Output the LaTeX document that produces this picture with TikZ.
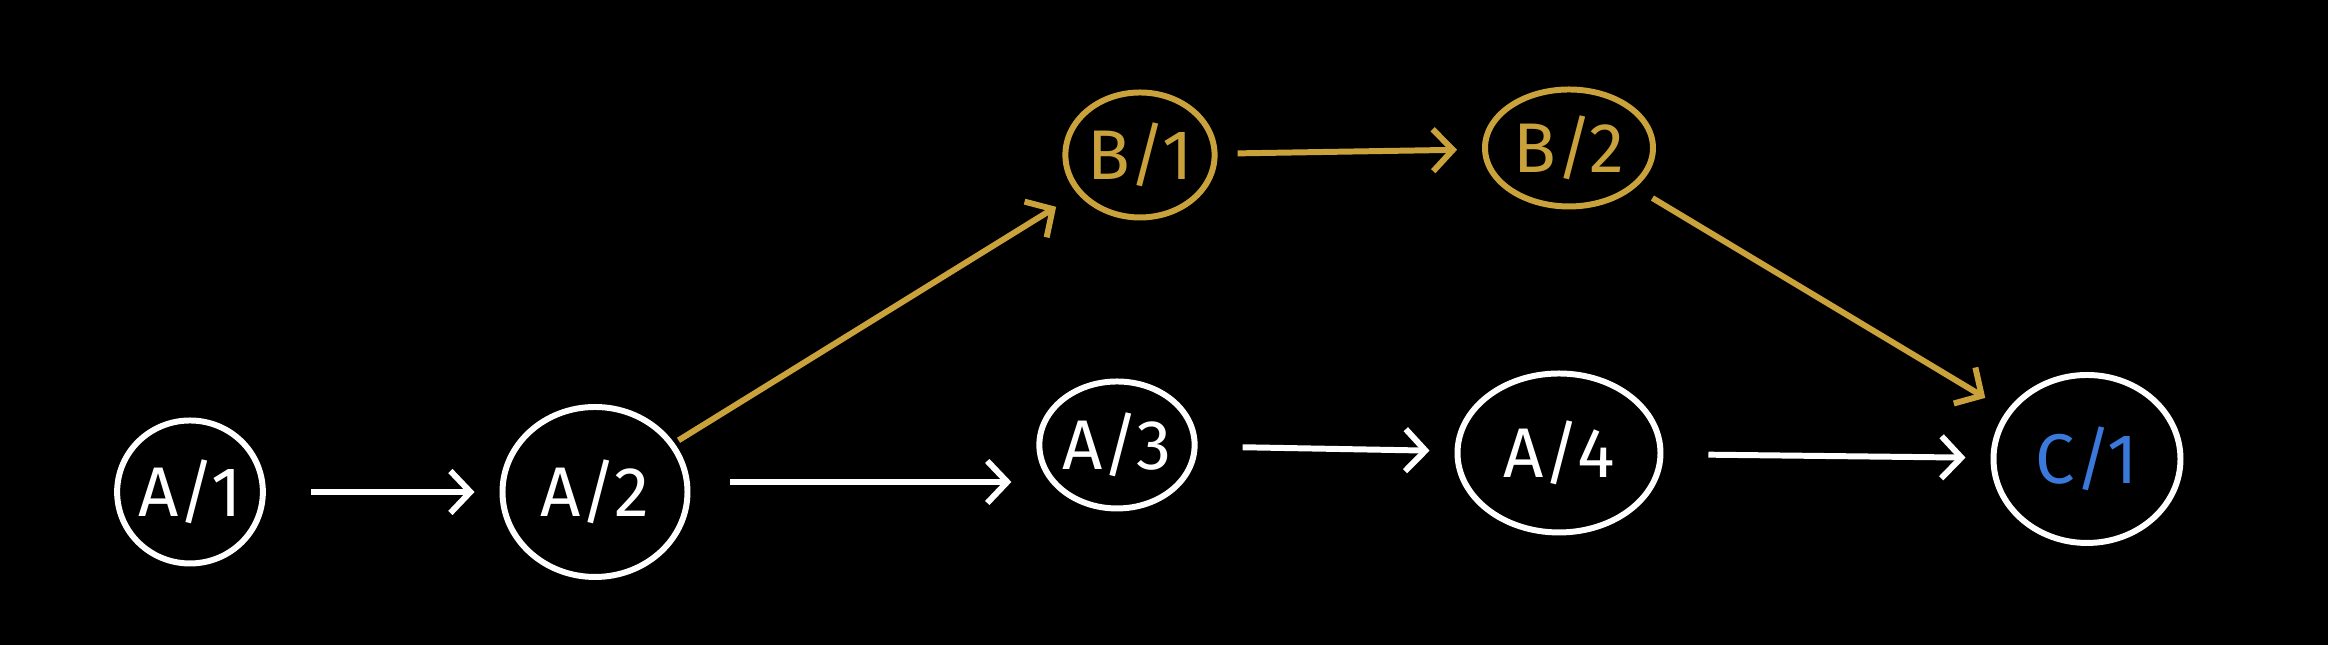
\documentclass[tikz,border=0pt]{standalone}
\usepackage{fontspec}
\setsansfont{Fira Sans}
\usetikzlibrary{arrows.meta, shapes.geometric}
\definecolor{gold}{HTML}{C9A23B}
\definecolor{chalkblue}{HTML}{3A78DA}

\begin{document}
\begin{tikzpicture}[every node/.style={font=\sffamily\fontsize{20}{24}\selectfont},
  state/.style={ellipse, draw=white, line width=1.7pt, inner sep=0pt, text=white},
  link/.style={-{Straight Barb[length=0.2cm, width=0.42cm]}, white, line width=1.7pt, shorten <=0.45cm, shorten >=0.25cm}]
\fill[black] (0,0) rectangle (23.28,6.45);
% bottom row: A states
\node[state, minimum width=1.36cm, minimum height=1.43cm] (a1) at (1.90,1.53) {A/1};
\node[state, minimum width=1.85cm, minimum height=1.70cm] (a2) at (5.95,1.53) {A/2};
\node[state, minimum width=1.55cm, minimum height=1.27cm] (a3) at (11.17,2.00) {A/3};
\node[state, minimum width=2.03cm, minimum height=1.59cm] (a4) at (15.59,1.92) {A/4};
% top row: B states
\node[state, draw=gold, text=gold, minimum width=1.46cm, minimum height=1.25cm] (b1) at (11.40,4.90) {B/1};
\node[state, draw=gold, text=gold, minimum width=1.68cm, minimum height=1.17cm] (b2) at (15.69,4.97) {B/2};
% end state
\node[state, text=chalkblue, minimum width=1.87cm, minimum height=1.68cm] (c1) at (20.87,1.86) {C/1};
% arrows
\draw[link] (a1) -- (a2);
\draw[link, shorten <=0.4cm] ([yshift=1mm]a2.east) -- ([yshift=1mm]a2.east -| a3.west);
\draw[link] (a3) -- (a4);
\draw[link] (a4) -- (c1);
\draw[link, gold, shorten <=0.05cm] (a2) -- (b1);
\draw[link, gold, shorten <=0.2cm] (b1) -- (b2);
\draw[link, gold, shorten <=0.2cm] (b2) -- (c1);
\end{tikzpicture}
\end{document}
